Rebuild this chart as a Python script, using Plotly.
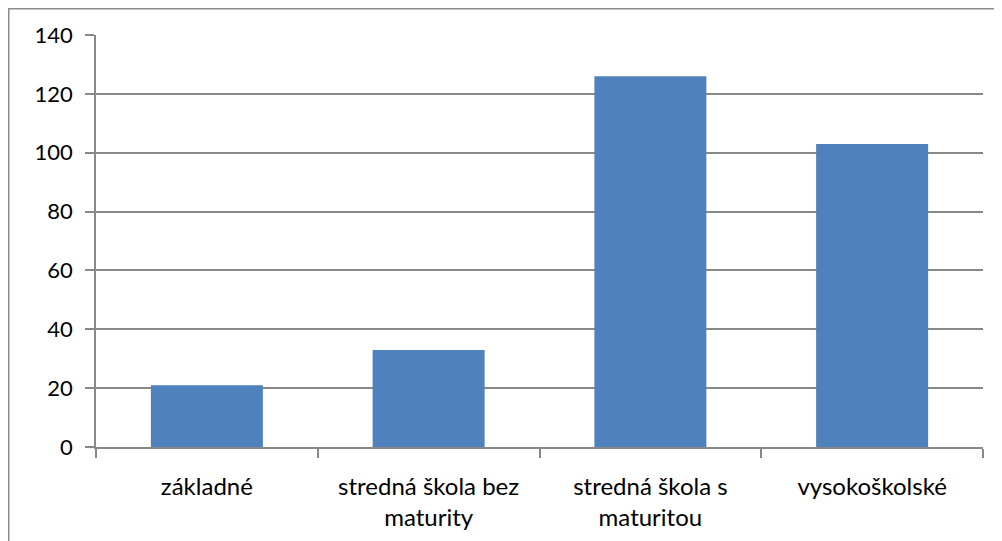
import plotly.graph_objects as go

categories = ["základné", "stredná škola bez<br>maturity", "stredná škola s<br>maturitou", "vysokoškolské"]
values = [21, 33, 126, 103]
y_ticks = [0, 20, 40, 60, 80, 100, 120, 140]

# page body has an 8px margin, so the figure starts at (8, 8)
W, H = 994, 533
L, R, T, B = 88, 19, 27, 94
pw, ph = W - L - R, H - T - B

fig = go.Figure(go.Bar(x=categories, y=values, marker=dict(color="#4F81BD", line=dict(width=0)), width=0.505))

grid = "#888888"
fig.update_layout(
    width=W, height=H,
    margin=dict(l=L, r=R, t=T, b=B, autoexpand=False),
    paper_bgcolor="white", plot_bgcolor="white",
    font=dict(family="Lato, Carlito, sans-serif", size=22, color="#000000"),
    showlegend=False,
    xaxis=dict(
        type="category", tickson="boundaries", ticks="outside", ticklen=9, tickwidth=1.5,
        tickcolor=grid, showline=True, linecolor=grid, linewidth=1.5, showgrid=False,
        tickangle=0, tickfont=dict(size=24), ticklabelstandoff=17, automargin=False,
    ),
    yaxis=dict(
        range=[0, 140], tickvals=y_ticks, ticks="outside", ticklen=9, tickwidth=1.5,
        tickcolor=grid, showline=True, linecolor=grid, linewidth=1.5,
        showgrid=True, gridcolor=grid, gridwidth=1.5, zeroline=False,
        ticklabelstandoff=8, tickfont=dict(size=22), automargin=False,
    ),
    shapes=[dict(
        type="rect", xref="paper", yref="paper", layer="below",
        x0=(0.75 - L) / pw, x1=(W + 20 - L) / pw,
        y0=-0.5, y1=1 + (T - 0.75) / ph,
        line=dict(color="#8C8C8C", width=1.5), fillcolor="rgba(0,0,0,0)",
    )],
)

fig.write_html("out.html")
